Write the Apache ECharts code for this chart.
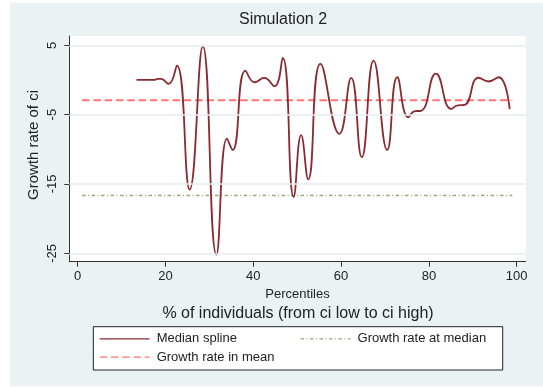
<!DOCTYPE html>
<html>
<head>
<meta charset="utf-8">
<script src="https://cdn.jsdelivr.net/npm/echarts@6/dist/echarts.min.js"></script>
<style>
html,body{margin:0;padding:0;background:#fff;}
#chart{width:543px;height:387px;}
</style>
</head>
<body>
<div id="chart"></div>
<script>
// Percentile positions (x) and median-spline growth rates (y)
var percentiles = [13.4, 17.6, 18.1, 19.0, 20.7, 22.6, 25.5, 28.5, 31.6, 34.0, 35.3, 38.2, 40.3, 42.5, 44.8, 46.7, 49.2, 50.9, 52.5, 55.3, 59.6, 62.3, 64.7, 67.4, 70.5, 72.8, 75.3, 76.8, 78.2, 81.6, 85.1, 86.6, 88.1, 91.3, 93.6, 95.9, 98.4];
var splineValues = [0, 0, 0.15, 0.15, -0.57, 2.07, -15.8, 4.86, -25.2, -8.45, -10.1, 1.35, -0.33, 0.29, -0.9, 3.17, -16.86, -7.97, -14.35, 2.31, -7.78, 0.29, -11.14, 2.79, -10.1, 0.39, -5.38, -4.5, -4.45, 0.9, -4.17, -3.65, -3.6, 0.32, -0.22, 0.39, -4.2];
var refRange = [1, 99];
var meanGrowth = -2.93;
var medianGrowth = -16.66;
var xTicks = [0, 20, 40, 60, 80, 100];
var yTicks = [-25, -15, -5, 5];

var FONT = '"Liberation Sans", Arial, Helvetica, sans-serif';
var chart = echarts.init(document.getElementById('chart'), null, {renderer: 'canvas'});

var splineData = percentiles.map(function (p, i) { return [p, splineValues[i]]; });
var meanData = refRange.map(function (p) { return [p, meanGrowth]; });
var medianData = refRange.map(function (p) { return [p, medianGrowth]; });

var gridL = 69.3, gridR = 525.7, gridT = 36, gridB = 261.7;

var legendCommon = {
  orient: 'horizontal', itemWidth: 50, itemHeight: 14, padding: 0,
  itemStyle: {opacity: 0, borderWidth: 0},
  lineStyle: {width: 1.3},
  textStyle: {color: '#222', fontSize: 13, fontFamily: FONT, padding: [0, 0, 0, 2]},
  selectedMode: false
};

var option = {
  backgroundColor: '#ffffff',
  animation: false,
  textStyle: {fontFamily: FONT},
  grid: {left: gridL, top: gridT, width: gridR - gridL, height: gridB - gridT, containLabel: false},
  xAxis: {
    type: 'value', min: -1.91, max: 102.05,
    axisLine: {show: true, onZero: false, lineStyle: {color: '#333', width: 1}},
    axisTick: {show: true, customValues: xTicks, length: 5, lineStyle: {color: '#333', width: 1}},
    axisLabel: {show: true, customValues: xTicks, margin: 8, color: '#222', fontSize: 13, fontFamily: FONT},
    splitLine: {show: false},
    name: 'Percentiles', nameLocation: 'middle', nameGap: 23,
    nameTextStyle: {color: '#222', fontSize: 13, fontFamily: FONT}
  },
  yAxis: {
    type: 'value', min: -26.21, max: 6.34,
    axisLine: {show: true, onZero: false, lineStyle: {color: '#333', width: 1}},
    axisTick: {show: true, customValues: yTicks, length: 5, lineStyle: {color: '#333', width: 1}},
    axisLabel: {show: true, customValues: yTicks, rotate: 90, margin: 10, color: '#222', fontSize: 13, fontFamily: FONT},
    splitLine: {show: false}
  },
  legend: [
    Object.assign({}, legendCommon, {
      data: ['Median spline', 'Growth rate at median'],
      left: 99, top: 332.3, itemGap: 63
    }),
    Object.assign({}, legendCommon, {
      data: ['Growth rate in mean'],
      left: 99, top: 350.7
    })
  ],
  graphic: [
    {type: 'rect', z: -100, silent: true, shape: {x: 10, y: 2.7, width: 533, height: 383.5}, style: {fill: '#eaf2f3'}},
    {type: 'rect', z: -99, silent: true, shape: {x: gridL, y: gridT, width: gridR - gridL, height: gridB - gridT}, style: {fill: '#ffffff'}},
    {type: 'rect', z: -98, silent: true, shape: {x: 93.3, y: 326.7, width: 409.4, height: 43.3}, style: {fill: '#ffffff', stroke: '#222', lineWidth: 1}},
    {type: 'text', silent: true, x: 283, y: 20, style: {text: 'Simulation 2', fontSize: 16, fontFamily: FONT, fill: '#222', align: 'center', verticalAlign: 'middle'}},
    {type: 'text', silent: true, x: 298, y: 313.3, style: {text: '% of individuals (from ci low to ci high)', fontSize: 16, fontFamily: FONT, fill: '#222', align: 'center', verticalAlign: 'middle'}},
    {type: 'text', silent: true, x: 34.3, y: 145, rotation: Math.PI / 2, style: {text: 'Growth rate of ci', fontSize: 15, fontFamily: FONT, fill: '#222', align: 'center', verticalAlign: 'middle'}}
  ],
  series: [
    {
      name: 'gridlines', type: 'line', data: [], silent: true, z: 1,
      markLine: {
        silent: true, symbol: 'none', label: {show: false},
        lineStyle: {color: '#e6eef0', width: 1.5, type: 'solid'},
        data: yTicks.map(function (v) { return {yAxis: v}; })
      }
    },
    {
      name: 'Growth rate in mean', type: 'line', data: meanData, z: 3,
      symbol: 'none', showSymbol: false,
      lineStyle: {color: '#ff7474', width: 2, type: [7.5, 3.8]},
      itemStyle: {color: '#ff7474'}
    },
    {
      name: 'Growth rate at median', type: 'line', data: medianData, z: 3,
      symbol: 'none', showSymbol: false,
      lineStyle: {color: '#93a878', width: 1.5, type: [3.5, 2.5, 1, 2.5]},
      itemStyle: {color: '#93a878'}
    },
    {
      name: 'Median spline', type: 'line', data: splineData, z: 4,
      symbol: 'none', showSymbol: false, smooth: 0.5,
      lineStyle: {color: '#8a2a31', width: 1.8},
      itemStyle: {color: '#8a2a31'}
    }
  ]
};
chart.setOption(option);
</script>
</body>
</html>
